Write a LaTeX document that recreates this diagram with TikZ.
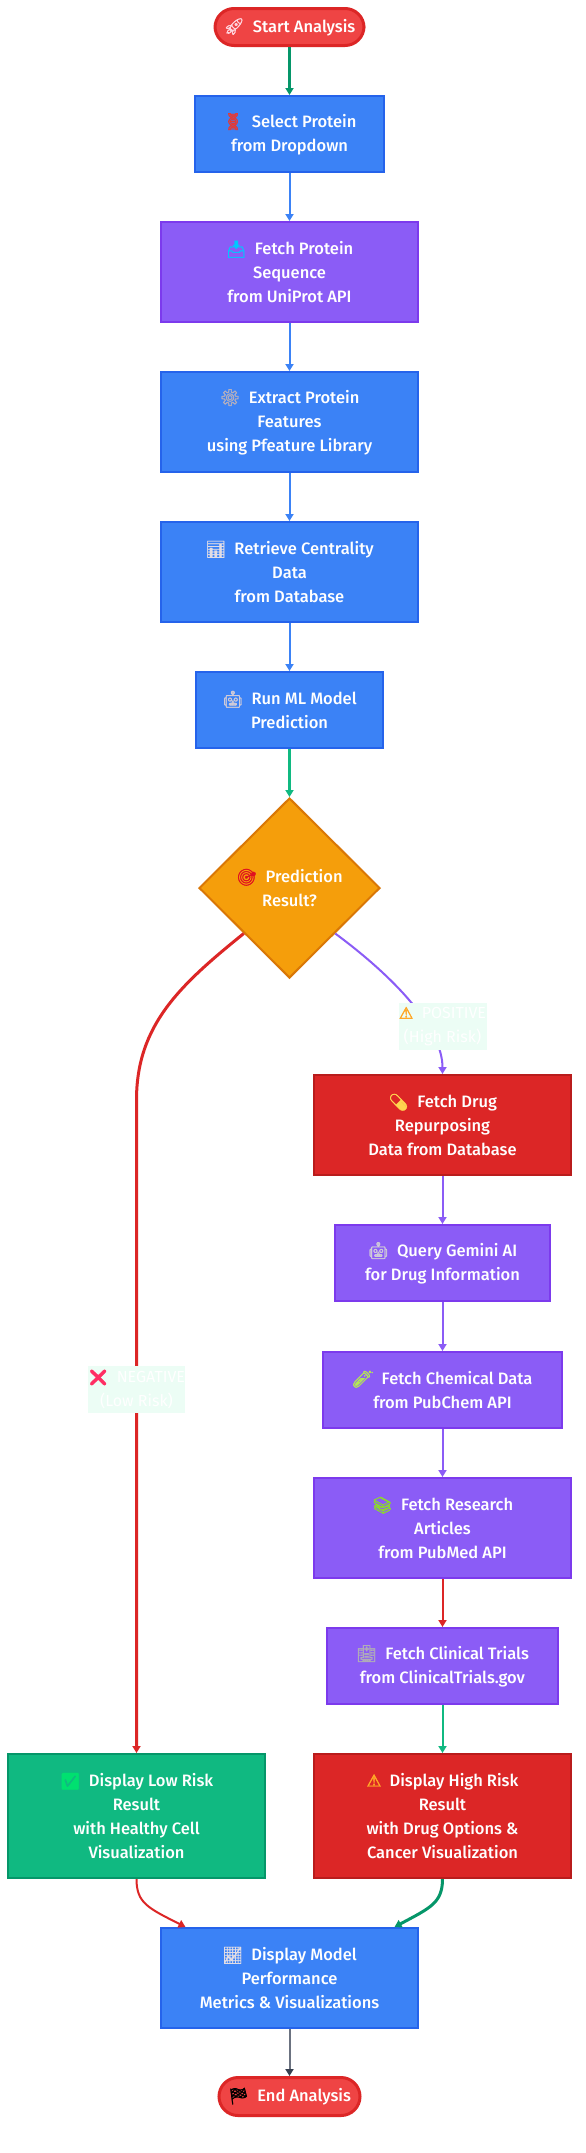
\documentclass[tikz,border=0pt]{standalone}
\usepackage{fontspec}
\usetikzlibrary{shapes.geometric,arrows.meta}
\setmainfont{Fira Sans Medium}
\newfontfamily\labelfont{Fira Sans}
\newfontfamily\emo[FakeBold=1.6]{Noto Emoji}
\newfontfamily\dejav[FakeBold=2.5]{DejaVu Sans}
\newcommand{\emj}[2]{{\emo\textcolor[HTML]{#1}{#2}}}
\newcommand{\emjd}[2]{{\dejav\textcolor[HTML]{#1}{#2}}}
\definecolor{cBlue}{HTML}{3B82F6}
\definecolor{cBlueD}{HTML}{2563EB}
\definecolor{cPur}{HTML}{8B5CF6}
\definecolor{cPurD}{HTML}{7C3AED}
\definecolor{cRed}{HTML}{DC2626}
\definecolor{cRedD}{HTML}{B91C1C}
\definecolor{cGrn}{HTML}{10B981}
\definecolor{cGrnD}{HTML}{059669}
\definecolor{cAmb}{HTML}{F59E0B}
\definecolor{cAmbD}{HTML}{D97706}
\definecolor{cPill}{HTML}{EF4444}
\definecolor{cLab}{HTML}{ECFDF5}
\definecolor{cGry}{HTML}{6B7280}
\definecolor{cGryD}{HTML}{374151}
\tikzset{
  x=1pt,y=-1pt,
  every node/.style={font=\fontsize{16.5}{24}\selectfont,text=white,align=center,inner sep=0pt},
  box/.style={rectangle,line width=2pt},
  blue box/.style={box,fill=cBlue,draw=cBlueD},
  purple box/.style={box,fill=cPur,draw=cPurD},
  red box/.style={box,fill=cRed,draw=cRedD},
  green box/.style={box,fill=cGrn,draw=cGrnD},
  pill/.style={rectangle,rounded corners=19pt,fill=cPill,draw=cRed,line width=3pt},
  decision/.style={diamond,aspect=1,fill=cAmb,draw=cAmbD,line width=2pt,minimum width=181pt,minimum height=180pt},
  edgelabel/.style={fill=cLab,minimum width=88pt,minimum height=47pt,text=white,font=\fontsize{16}{24}\selectfont\labelfont},
  link/.style={line width=2pt,-{Triangle[length=7pt,width=8pt]}},
  heavy/.style={line width=3pt,-{Triangle[length=7pt,width=8pt]}},
}
\begin{document}
\begin{tikzpicture}
\useasboundingbox (0,0) rectangle (586,2153);
\fill[white] (0,0) rectangle (586,2153);
\node[pill,minimum width=149pt,minimum height=37pt] (nStart) at (289.5,27) {\emj{FFD5DE}{🚀}\ \ Start Analysis};
\node[blue box,minimum width=189pt,minimum height=76pt] (nSelect) at (289.5,134) {\emj{E53935}{🧬}\ \ Select Protein\\from Dropdown};
\node[purple box,minimum width=257pt,minimum height=100pt] (nFetchSeq) at (289.5,272) {\emj{00C8FF}{📥}\ \ Fetch Protein\\Sequence\\from UniProt API};
\node[blue box,minimum width=257pt,minimum height=100pt] (nExtract) at (289.5,422) {\emj{B5B0BF}{⚙}\ \ Extract Protein\\Features\\using Pfeature Library};
\node[blue box,minimum width=257pt,minimum height=100pt] (nCentral) at (289.5,572) {\emj{E0DCE5}{📊}\ \ Retrieve Centrality\\Data\\from Database};
\node[blue box,minimum width=187pt,minimum height=76pt] (nRun) at (289.5,710) {\emj{D0CBD8}{🤖}\ \ Run ML Model\\Prediction};
\node[decision] (nDec) at (289.5,888) {\emj{E01020}{🎯}\ \ Prediction\\Result?};
\node[red box,minimum width=257pt,minimum height=100pt] (nDrug) at (442.5,1125) {\emj{FFD54F}{💊}\ \ Fetch Drug\\Repurposing\\Data from Database};
\node[purple box,minimum width=215pt,minimum height=76pt] (nGemini) at (442.5,1263) {\emj{D0CBD8}{🤖}\ \ Query Gemini AI\\for Drug Information};
\node[purple box,minimum width=239pt,minimum height=76pt] (nChem) at (442.5,1390) {\emj{B5E853}{🧪}\ \ Fetch Chemical Data\\from PubChem API};
\node[purple box,minimum width=257pt,minimum height=100pt] (nPubmed) at (442.5,1528) {\emj{8BD631}{📚}\ \ Fetch Research\\Articles\\from PubMed API};
\node[purple box,minimum width=231pt,minimum height=76pt] (nTrials) at (442.5,1666) {\emj{B0ACB8}{🏥}\ \ Fetch Clinical Trials\\from ClinicalTrials.gov};
\node[green box,minimum width=257pt,minimum height=124pt] (nLow) at (136.5,1816) {\emj{00E070}{✅}\ \ Display Low Risk\\Result\\with Healthy Cell\\Visualization};
\node[red box,minimum width=257pt,minimum height=124pt] (nHigh) at (442.5,1816) {\emjd{FFA726}{⚠}\ \ Display High Risk\\Result\\with Drug Options \&\\Cancer Visualization};
\node[blue box,minimum width=257pt,minimum height=100pt] (nPerf) at (289.5,1978) {\emj{E0DCE5}{📈}\ \ Display Model\\Performance\\Metrics \& Visualizations};
\node[pill,minimum width=141pt,minimum height=38pt] (nEnd) at (289.5,2096.5) {\emj{000000}{🏁}\ \ End Analysis};
\draw[heavy,draw=cGrnD] (nStart) -- (nSelect);
\draw[link,draw=cBlue] (nSelect) -- (nFetchSeq);
\draw[link,draw=cBlue] (nFetchSeq) -- (nExtract);
\draw[link,draw=cBlue] (nExtract) -- (nCentral);
\draw[link,draw=cBlue] (nCentral) -- (nRun);
\draw[heavy,draw=cGrn] (nRun) -- (nDec);
\draw[heavy,draw=cRed] (nDec.south west) .. controls (180,985) and (136.5,1025) .. (136.5,1100) -- (nLow.north);
\draw[link,draw=cPur] (nDec.south east) .. controls (398,980) and (442.5,1030) .. (nDrug.north);
\draw[link,draw=cPur] (nDrug) -- (nGemini);
\draw[link,draw=cPur] (nGemini) -- (nChem);
\draw[link,draw=cPur] (nChem) -- (nPubmed);
\draw[link,draw=cRed] (nPubmed) -- (nTrials);
\draw[link,draw=cGrn] (nTrials) -- (nHigh);
\draw[link,draw=cRed] (nLow.south) .. controls (136.5,1903) and (148,1908) .. ([xshift=-104pt]nPerf.north);
\draw[heavy,draw=cGrnD] (nHigh.south) .. controls (442.5,1903) and (430,1908) .. ([xshift=105pt]nPerf.north);
\draw[line width=2pt,draw=cGry,-{Triangle[length=7pt,width=8pt,color=cGryD]}] (nPerf) -- (nEnd);
\node[edgelabel] (lPos) at (442.5,1026.5) {\emjd{FFA726}{⚠}\ \ POSITIVE\\(High Risk)};
\node[edgelabel,minimum width=94pt] (lNeg) at (136.5,1389.5) {\emj{FF2E63}{❌}\ \ NEGATIVE\\(Low Risk)};
\end{tikzpicture}
\end{document}
